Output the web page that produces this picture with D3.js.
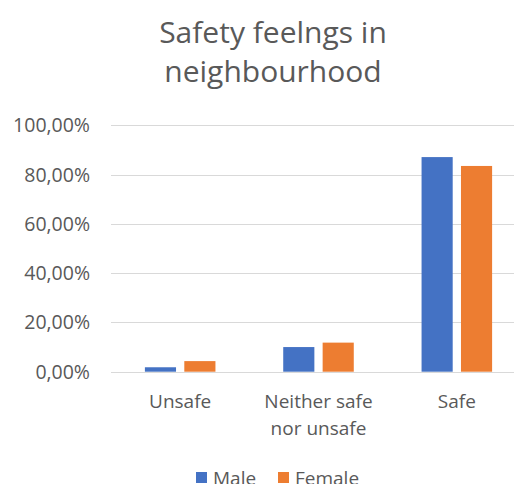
<!DOCTYPE html>
<html>
<head>
<meta charset="utf-8">
<script src="https://cdn.jsdelivr.net/npm/d3@7"></script>
<style>
  body { margin: 0; background: #fff; }
  text { font-family: "Open Sans", sans-serif; fill: #595959; }
</style>
</head>
<body>
<div class="wrapper"></div>
<script>
var categories = ["Unsafe", "Neither safe nor unsafe", "Safe"];
var series = ["Male", "Female"];
var male = [1.8, 10.0, 87.1];
var female = [4.3, 11.8, 83.5];
var yTicks = [0, 20, 40, 60, 80, 100];
var titleLines = ["Safety feelngs in", "neighbourhood"];

var width = 514,
    height = 484;

var color = d3.scaleOrdinal().domain(series).range(["#4472C4", "#ED7D31"]);

var x0 = d3.scaleBand().domain(categories).range([111, 526]);
var x1 = d3.scaleBand().domain(series).range([0, x0.bandwidth()])
    .paddingInner(0.21).paddingOuter(0.86);
var y = d3.scaleLinear().domain([0, 100]).range([371.7, 125.3]);

var fmt = function(v) { return d3.format(".2f")(v).replace(".", ",") + "%"; };

var svg = d3.select(".wrapper").append("svg")
    .attr("width", width)
    .attr("height", height);

// title
svg.append("text")
    .attr("text-anchor", "middle")
    .style("font-size", "30px")
  .selectAll("tspan")
    .data(titleLines)
  .enter().append("tspan")
    .attr("x", 273)
    .attr("y", function(d, i) { return 43 + i * 39; })
    .text(function(d) { return d; });

// grid + y labels
var yAxis = svg.append("g");
yAxis.selectAll("line")
    .data(yTicks)
  .enter().append("line")
    .attr("x1", 111).attr("x2", width)
    .attr("y1", function(d) { return Math.round(y(d)) + 0.5; })
    .attr("y2", function(d) { return Math.round(y(d)) + 0.5; })
    .attr("stroke", "#d9d9d9")
    .attr("stroke-width", 1.2);
yAxis.selectAll("text")
    .data(yTicks)
  .enter().append("text")
    .attr("x", 90)
    .attr("y", y)
    .attr("dy", "0.36em")
    .attr("text-anchor", "end")
    .style("font-size", "19.5px")
    .text(fmt);

// bars
var groups = svg.selectAll("g.cat")
    .data(categories)
  .enter().append("g")
    .attr("class", "cat")
    .attr("transform", function(d) { return "translate(" + x0(d) + ",0)"; });

groups.selectAll("rect")
    .data(function(d, i) {
      return [{s: "Male", v: male[i]}, {s: "Female", v: female[i]}];
    })
  .enter().append("rect")
    .attr("x", function(d) { return x1(d.s); })
    .attr("width", x1.bandwidth())
    .attr("y", function(d) { return y(d.v); })
    .attr("height", function(d) { return y(0) - y(d.v); })
    .attr("fill", function(d) { return color(d.s); });

// category labels (wrapped)
function wrapLabel(s) {
  var words = s.split(" "), lines = [], cur = "";
  words.forEach(function(w) {
    var t = cur ? cur + " " + w : w;
    if (t.length > 12 && cur) { lines.push(cur); cur = w; } else cur = t;
  });
  lines.push(cur);
  return lines;
}
groups.append("text")
    .attr("text-anchor", "middle")
    .style("font-size", "19px")
  .selectAll("tspan")
    .data(function(d) { return wrapLabel(d); })
  .enter().append("tspan")
    .attr("x", x0.bandwidth() / 2)
    .attr("y", function(d, i) { return 408 + i * 27; })
    .text(function(d) { return d; });

// legend
var legendX = [196, 278];
var legend = svg.selectAll("g.legend")
    .data(series)
  .enter().append("g")
    .attr("class", "legend")
    .attr("transform", function(d, i) { return "translate(" + legendX[i] + ",0)"; });
legend.append("rect")
    .attr("y", 472).attr("width", 11).attr("height", 11)
    .attr("fill", function(d) { return color(d); });
legend.append("text")
    .attr("x", 17).attr("y", 484.5)
    .style("font-size", "19px")
    .text(function(d) { return d; });
</script>
</body>
</html>
